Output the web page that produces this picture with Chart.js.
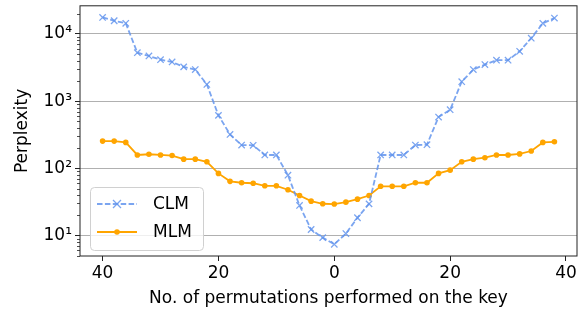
<!DOCTYPE html>
<html>
<head>
<meta charset="utf-8">
<script src="https://cdn.jsdelivr.net/npm/chart.js@4.4.1/dist/chart.umd.min.js"></script>
<style>
  html, body { margin: 0; padding: 0; background: #fff; }
  #wrap { width: 587px; height: 312px; position: relative; }
</style>
</head>
<body>
<div id="wrap"><canvas id="c"></canvas></div>
<script>
// x positions (number of permutations, left half shown as negative)
const xs = [-40, -38, -36, -34, -32, -30, -28, -26, -24, -22, -20, -18, -16, -14, -12, -10, -8, -6, -4, -2,
            0, 2, 4, 6, 8, 10, 12, 14, 16, 18, 20, 22, 24, 26, 28, 30, 32, 34, 36, 38];

const clm = [17600, 15700, 14400, 5250, 4700, 4140, 3830, 3230, 2950, 1770,
             614, 319, 222, 220, 158, 158, 79, 28, 12.3, 9.3,
             7.4, 10.7, 18.4, 29.6, 158, 158, 158, 222, 225, 580,
             745, 1945, 2950, 3500, 4060, 4060, 5510, 8640, 14400, 17200];

const mlm = [254, 254, 243, 158, 162, 158, 155, 137, 137, 125,
             84, 64, 61, 60, 55, 55, 48, 39.4, 32.5, 29.7,
             29.4, 31.4, 34.8, 39.4, 54, 54, 54, 61, 61, 84,
             94, 125, 137, 144, 158, 158, 164, 181, 243, 248];

const xTicks = [-40, -20, 0, 20, 40];
const yTicks = [10, 100, 1000, 10000];
const supers = { 1: "\u00b9", 2: "\u00b2", 3: "\u00b3", 4: "\u2074" };

const FONT = "DejaVu Sans";
const FS = 17;
const CLM_COLOR = "rgba(100,149,237,0.85)";
const MLM_COLOR = "#ffa500";

// full box around plot area + minor log ticks on the left
const frame = {
  id: "frame",
  afterDraw(chart) {
    const { ctx, chartArea: a, scales } = chart;
    ctx.save();
    ctx.strokeStyle = "#222";
    ctx.lineWidth = 1;
    ctx.strokeRect(a.left, a.top, a.right - a.left, a.bottom - a.top);

    // minor ticks
    const y = scales.y;
    ctx.beginPath();
    for (let d = 1; d <= 10000; d *= 10) {
      for (let m = 2; m <= 9; m++) {
        const v = d * m;
        if (v < y.min || v > y.max) continue;
        const py = Math.round(y.getPixelForValue(v)) + 0.5;
        ctx.moveTo(a.left, py);
        ctx.lineTo(a.left - 3, py);
      }
    }
    ctx.lineWidth = 0.8;
    ctx.stroke();
    ctx.restore();
  },
};

// matplotlib-style legend in the lower left
const boxLegend = {
  id: "boxLegend",
  afterDraw(chart) {
    const { ctx, chartArea: a } = chart;
    const bx = a.left + 10, by = a.bottom - 69, bw = 113, bh = 63;
    ctx.save();
    ctx.fillStyle = "rgba(255,255,255,0.8)";
    ctx.strokeStyle = "#d0d0d0";
    ctx.lineWidth = 1;
    ctx.beginPath();
    ctx.roundRect(bx + 0.5, by + 0.5, bw, bh, 4);
    ctx.fill();
    ctx.stroke();

    const x0 = bx + 7, x1 = bx + 47, xm = (x0 + x1) / 2;
    const y1 = by + 17, y2 = by + 45;

    // CLM sample
    ctx.strokeStyle = CLM_COLOR;
    ctx.lineWidth = 1.8;
    ctx.setLineDash([5.5, 2.4]);
    ctx.beginPath(); ctx.moveTo(x0, y1); ctx.lineTo(x1, y1); ctx.stroke();
    ctx.setLineDash([]);
    ctx.lineWidth = 1.3;
    ctx.beginPath();
    ctx.moveTo(xm - 4, y1 - 4); ctx.lineTo(xm + 4, y1 + 4);
    ctx.moveTo(xm - 4, y1 + 4); ctx.lineTo(xm + 4, y1 - 4);
    ctx.stroke();

    // MLM sample
    ctx.strokeStyle = MLM_COLOR;
    ctx.fillStyle = MLM_COLOR;
    ctx.lineWidth = 1.8;
    ctx.beginPath(); ctx.moveTo(x0, y2); ctx.lineTo(x1, y2); ctx.stroke();
    ctx.beginPath(); ctx.arc(xm, y2, 2.8, 0, Math.PI * 2); ctx.fill();

    ctx.fillStyle = "#000";
    ctx.font = `${FS}px "${FONT}"`;
    ctx.textBaseline = "middle";
    ctx.fillText("CLM", bx + 63, y1 + 1);
    ctx.fillText("MLM", bx + 63, y2 + 1);
    ctx.restore();
  },
};

new Chart(document.getElementById("c"), {
  type: "line",
  data: {
    datasets: [
      {
        label: "CLM",
        data: xs.map((x, i) => ({ x, y: clm[i] })),
        borderColor: CLM_COLOR,
        borderWidth: 1.8,
        borderDash: [5.5, 2.4],
        pointStyle: "crossRot",
        pointRadius: 4.5,
        pointBorderWidth: 1.3,
        pointBorderColor: CLM_COLOR,
        tension: 0,
      },
      {
        label: "MLM",
        data: xs.map((x, i) => ({ x, y: mlm[i] })),
        borderColor: MLM_COLOR,
        backgroundColor: MLM_COLOR,
        borderWidth: 1.8,
        pointStyle: "circle",
        pointRadius: 2.8,
        pointBorderWidth: 0,
        tension: 0,
      },
    ],
  },
  options: {
    responsive: true,
    maintainAspectRatio: false,
    animation: false,
    layout: { padding: { top: 1, right: 10, left: 0, bottom: 0 } },
    plugins: { legend: { display: false }, tooltip: { enabled: false } },
    scales: {
      x: {
        type: "linear",
        min: -43.9,
        max: 41.9,
        afterBuildTicks: s => { s.ticks = xTicks.map(v => ({ value: v })); },
        afterFit: s => { s.height = 56; s.paddingLeft = 0; s.paddingRight = 0; },
        ticks: {
          color: "#000",
          font: { family: FONT, size: FS },
          padding: 2,
          maxRotation: 0,
          callback: v => String(Math.abs(v)),
        },
        grid: { drawOnChartArea: false, tickLength: 5, tickColor: "#222", tickWidth: 1 },
        border: { display: false },
        title: {
          display: true,
          text: "No. of permutations performed on the key",
          color: "#000",
          font: { family: FONT, size: FS },
          padding: { top: 0, bottom: 3 },
        },
      },
      y: {
        type: "logarithmic",
        min: 4.96,
        max: 26200,
        afterBuildTicks: s => { s.ticks = yTicks.map(v => ({ value: v })); },
        afterFit: s => { s.width = 80; s.paddingTop = 0; s.paddingBottom = 0; },
        ticks: {
          color: "#000",
          font: { family: FONT, size: FS },
          padding: 3,
          callback: v => "10" + supers[Math.round(Math.log10(v))],
        },
        grid: { color: "#b0b0b0", lineWidth: 1, tickLength: 5, tickColor: "#222", tickWidth: 1 },
        border: { display: false },
        title: {
          display: true,
          text: "Perplexity",
          color: "#000",
          font: { family: FONT, size: FS },
          padding: { top: 12, bottom: 4 },
        },
      },
    },
  },
  plugins: [frame, boxLegend],
});
</script>
</body>
</html>
